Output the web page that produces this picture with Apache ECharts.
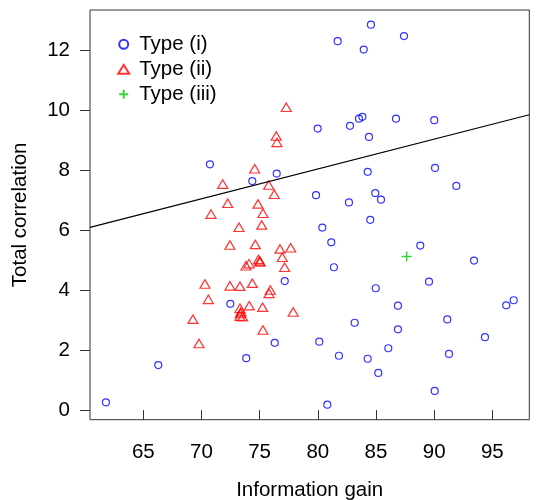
<!DOCTYPE html>
<html>
<head>
<meta charset="utf-8">
<script src="https://cdn.jsdelivr.net/npm/echarts@6/dist/echarts.min.js"></script>
<style>
  html, body { margin: 0; padding: 0; background: #fff; }
  #chart { width: 550px; height: 500px; }
</style>
</head>
<body>
<div id="chart"></div>
<script>
// 資料：點 [information gain, total correlation]
const typeI = [
    [61.79, 0.26], [66.29, 1.50], [70.73, 8.19], [74.37, 7.63], [76.47, 7.88],
    [79.99, 9.38], [79.85, 7.16], [72.48, 3.54], [77.16, 4.30], [76.30, 2.24],
    [73.85, 1.73], [80.13, 2.28], [80.39, 6.08], [84.57, 12.84], [81.71, 12.29],
    [83.95, 12.01], [87.41, 12.46], [82.77, 9.47], [83.54, 9.71], [83.83, 9.77],
    [86.72, 9.71], [90.01, 9.66], [84.40, 9.10], [84.29, 7.94], [90.08, 8.07],
    [91.91, 7.47], [82.68, 6.92], [84.94, 7.23], [85.43, 7.01], [84.51, 6.34],
    [81.16, 5.59], [81.39, 4.76], [88.81, 5.48], [93.43, 4.98], [89.56, 4.28],
    [84.98, 4.06], [86.89, 3.48], [96.20, 3.49], [96.84, 3.66], [91.13, 3.02],
    [83.17, 2.91], [86.89, 2.69], [94.37, 2.43], [86.06, 2.06], [81.82, 1.81],
    [84.29, 1.71], [91.28, 1.87], [85.20, 1.24], [90.05, 0.64], [80.82, 0.18]
];
const typeII = [
    [77.29, 10.09], [76.43, 9.13], [76.49, 8.92], [74.58, 8.04], [71.83, 7.53],
    [75.78, 7.50], [76.26, 7.19], [72.26, 6.89], [74.86, 6.87], [70.82, 6.53],
    [75.29, 6.56], [73.23, 6.09], [75.18, 6.17], [72.45, 5.50], [74.63, 5.52],
    [76.75, 5.37], [77.67, 5.41], [76.95, 5.09], [77.15, 4.76], [74.90, 5.02],
    [75.00, 4.97], [75.05, 4.94], [73.83, 4.81], [74.09, 4.88], [70.30, 4.20],
    [72.45, 4.14], [73.31, 4.13], [74.37, 4.23], [75.92, 4.00], [75.81, 3.89],
    [70.59, 3.69], [73.31, 3.39], [73.40, 3.28], [73.31, 3.13], [73.54, 3.11],
    [73.35, 3.22], [74.11, 3.48], [75.26, 3.43], [69.27, 3.03], [77.89, 3.27],
    [75.29, 2.67], [69.79, 2.22]
];
const typeIII = [
    [87.64, 5.12]
];
const seriesNames = ['Type (i)', 'Type (ii)', 'Type (iii)'];
const xTicks = [65, 70, 75, 80, 85, 90, 95];
const yTicks = [0, 2, 4, 6, 8, 10, 12];

// 回歸線 y = a + b * x
const fitA = 0.08;
const fitB = 0.0994;

const xMin = 60.42, xMax = 98.18;
const yMin = -0.32, yMax = 13.33;

document.addEventListener('DOMContentLoaded', function () {
    scatterPlot();
});

function scatterPlot() {
    const chart = echarts.init(document.getElementById('chart'));
    const font = 'Liberation Sans, Arial, Helvetica, sans-serif';
    const fs = 20.5;

    chart.setOption({
        animation: false,
        textStyle: { fontFamily: font },
        grid: {
            left: 90, right: 20.7, top: 10, bottom: 80.3,
            outerBoundsMode: 'none',
            containLabel: false,
            show: true, borderColor: '#333', borderWidth: 1
        },
        legend: {
            orient: 'vertical',
            left: 112.2,
            top: 26.8,
            itemWidth: 11,
            itemHeight: 9,
            itemGap: 0,
            textStyle: { fontSize: fs, color: '#000', lineHeight: 25, padding: [0, 0, 0, 5] },
            data: seriesNames
        },
        xAxis: {
            type: 'value',
            min: xMin, max: xMax,
            name: 'Information gain',
            nameLocation: 'middle',
            nameGap: 60,
            nameTextStyle: { fontSize: fs, color: '#000' },
            axisLine: { show: false },
            axisTick: {
                show: true, inside: false, length: 10,
                customValues: xTicks,
                lineStyle: { color: '#333', width: 1 }
            },
            axisLabel: {
                customValues: xTicks,
                fontSize: fs, color: '#000', margin: 22
            },
            splitLine: { show: false }
        },
        yAxis: {
            type: 'value',
            min: yMin, max: yMax,
            name: 'Total correlation',
            nameLocation: 'middle',
            nameGap: 59,
            nameRotate: 90,
            nameTextStyle: { fontSize: fs, color: '#000' },
            axisLine: { show: false },
            axisTick: {
                show: true, inside: false, length: 10,
                customValues: yTicks,
                lineStyle: { color: '#333', width: 1 }
            },
            axisLabel: {
                customValues: yTicks,
                fontSize: fs, color: '#000', margin: 20
            },
            splitLine: { show: false }
        },
        series: [
            {
                name: seriesNames[0],
                type: 'scatter',
                symbol: 'circle',
                symbolSize: 7,
                itemStyle: { color: 'transparent', borderColor: '#0000ff', borderWidth: 1.2 },
                data: typeI
            },
            {
                name: seriesNames[1],
                type: 'scatter',
                symbol: 'triangle',
                symbolSize: [10, 8.5],
                itemStyle: { color: 'transparent', borderColor: '#ff0000', borderWidth: 1.2 },
                data: typeII
            },
            {
                name: seriesNames[2],
                type: 'scatter',
                symbol: 'path://M0,5L10,5M5,0L5,10',
                symbolSize: 10,
                itemStyle: { color: 'transparent', borderColor: '#00cd00', borderWidth: 1.5 },
                data: typeIII
            },
            {
                name: 'fit',
                type: 'line',
                symbol: 'none',
                silent: true,
                lineStyle: { color: '#000', width: 1.2 },
                data: [[xMin, fitA + fitB * xMin], [xMax, fitA + fitB * xMax]]
            }
        ]
    });
}
</script>
</body>
</html>
